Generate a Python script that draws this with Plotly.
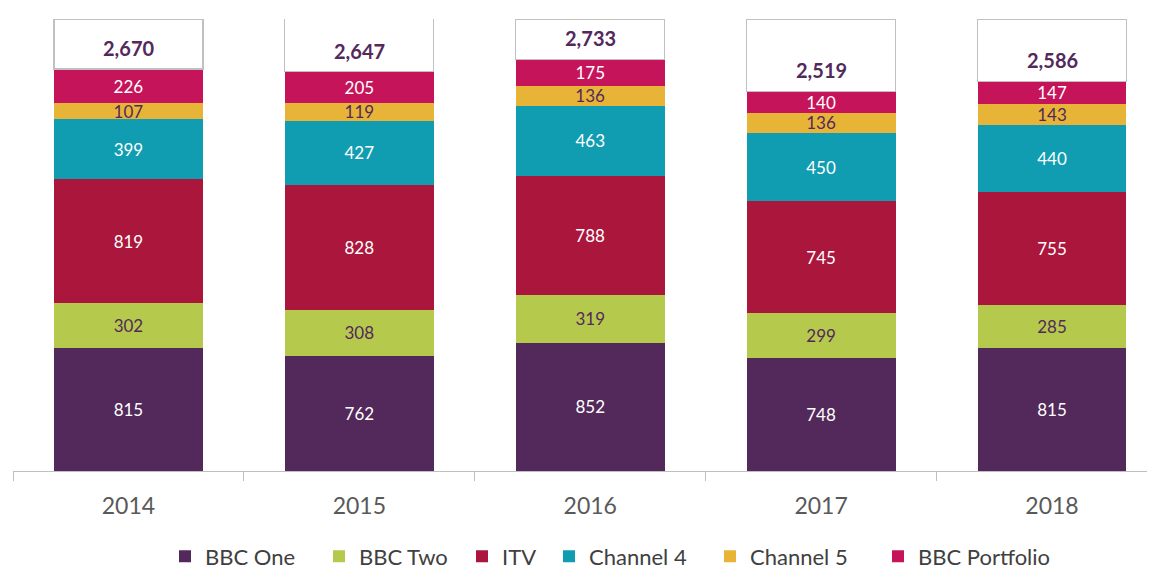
import plotly.graph_objects as go

years = ["2014", "2015", "2016", "2017", "2018"]
bbc_one = [815, 762, 852, 748, 815]
bbc_two = [302, 308, 319, 299, 285]
itv = [819, 828, 788, 745, 755]
channel4 = [399, 427, 463, 450, 440]
channel5 = [107, 119, 136, 136, 143]
bbc_portfolio = [226, 205, 175, 140, 147]
totals = [2670, 2647, 2733, 2519, 2586]
axis_max = 3000

series = [
    ("BBC One", bbc_one, "#53295B", "white"),
    ("BBC Two", bbc_two, "#B5C94C", "#53295B"),
    ("ITV", itv, "#AB173C", "white"),
    ("Channel 4", channel4, "#109DB1", "white"),
    ("Channel 5", channel5, "#E8B438", "#53295B"),
    ("BBC Portfolio", bbc_portfolio, "#C6145B", "white"),
]
# left edge (page px) of each legend swatch in the reference
legend_swatch_x = [179, 333, 476, 563, 724, 892]

FONT = "Lato"
FIG_W, FIG_H = 1147, 562
SWATCH_OFFSET = 14

fig = go.Figure()
legend_layouts = {}
for k, (name, vals, color, tcol) in enumerate(series):
    key = "legend" if k == 0 else f"legend{k + 1}"
    fig.add_trace(go.Bar(
        x=years, y=vals, name=name, legend=key,
        marker=dict(color=color, line=dict(width=0)),
        text=[f"{v:,}" for v in vals], textposition="inside",
        insidetextanchor="middle", textangle=0, constraintext="none",
        textfont=dict(family=FONT, size=17, color=tcol),
        hoverinfo="skip",
    ))
    legend_layouts[key] = dict(
        orientation="h", xref="container", yref="container",
        x=(legend_swatch_x[k] - 8 - SWATCH_OFFSET) / FIG_W, xanchor="left",
        y=0.024, yanchor="middle", bgcolor="rgba(0,0,0,0)",
        font=dict(family=FONT, size=22, color="#404040"), itemwidth=30,
    )

# white "total" boxes filling up to the axis maximum
fig.add_trace(go.Bar(
    x=years, y=[axis_max - t for t in totals], name="Total", showlegend=False,
    marker=dict(color="white", line=dict(width=1.2, color="#C0C0C0")),
    hoverinfo="skip",
))

for i, t in enumerate(totals):
    fig.add_annotation(x=i, y=t, xref="x", yref="y", text=f"<b>{t:,}</b>",
                       showarrow=False, yshift=21, yanchor="middle",
                       font=dict(family=FONT, size=20, color="#53295B"))

fig.update_layout(
    barmode="stack", bargap=0.355,
    width=FIG_W, height=FIG_H,
    margin=dict(l=4.5, r=0, t=10.5, b=99, autoexpand=False),
    plot_bgcolor="white", paper_bgcolor="white",
    font=dict(family=FONT, color="#595959"),
    showlegend=True,
    **legend_layouts,
)
fig.update_xaxes(type="category", range=[-0.5, 4.446], tickson="boundaries",
                 ticks="outside", ticklen=9, tickcolor="#BFBFBF",
                 showline=True, linecolor="#BFBFBF", linewidth=1,
                 ticklabelstandoff=14, automargin=False,
                 tickfont=dict(family=FONT, size=23, color="#595959"),
                 showgrid=False)
fig.update_yaxes(range=[0, axis_max], visible=False, showgrid=False, automargin=False)

fig.write_html("out.html")
